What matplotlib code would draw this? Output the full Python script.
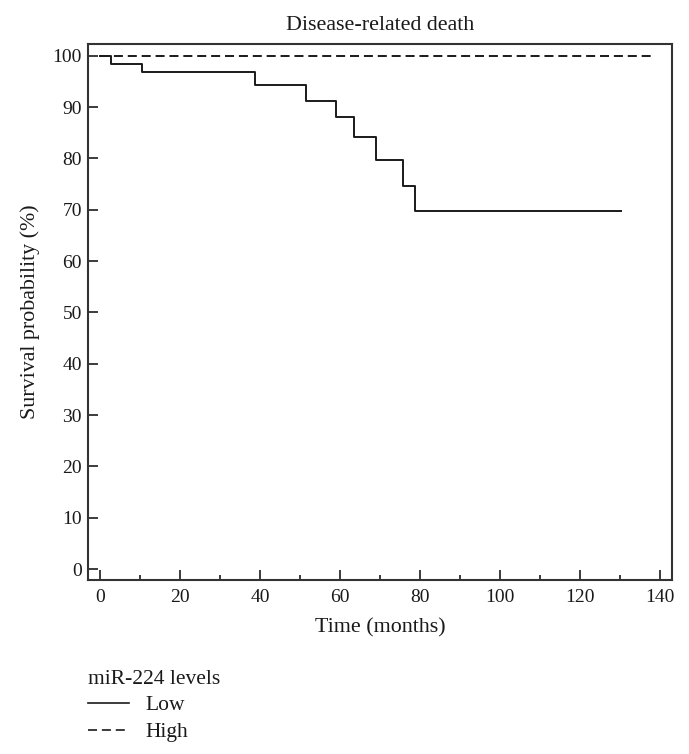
import matplotlib
matplotlib.use("Agg")
import matplotlib.pyplot as plt
from matplotlib.ticker import MultipleLocator

plt.rcParams['font.family'] = ['Liberation Serif', 'DejaVu Serif']
plt.rcParams['lines.scale_dashes'] = False

# Data
low_time = [0, 2.7, 10.4, 38.6, 51.3, 58.8, 63.3, 68.8, 75.7, 78.6, 130.1]
low_surv = [100, 98.4, 96.8, 94.4, 91.2, 88.0, 84.2, 79.6, 74.7, 69.7, 69.7]
high_time = [0, 137.6]
high_surv = [100, 100]
x_ticks = [0, 20, 40, 60, 80, 100, 120, 140]
y_ticks = [0, 10, 20, 30, 40, 50, 60, 70, 80, 90, 100]

W, H = 689, 754
fig = plt.figure(figsize=(W / 100, H / 100), dpi=100)
ax = fig.add_axes([88 / W, 1 - 580 / H, (671.7 - 88) / W, (580 - 44) / H])

col = '#1a1a1a'
ax.step(low_time, low_surv, where='post', color=col, lw=1.4, label='Low')
ax.plot(high_time, high_surv, color=col, lw=1.4, dashes=(6.5, 3.5), label='High')

ax.set_xlim(-3.1, 142.85)
ax.set_ylim(-2.14, 102.3)
ax.set_xticks(x_ticks)
ax.set_yticks(y_ticks)
ax.xaxis.set_minor_locator(MultipleLocator(10))
ax.tick_params(axis='both', which='major', direction='in', length=7, width=1.2,
               labelsize=14, colors=col)
ax.tick_params(axis='x', which='major', pad=6.5)
ax.tick_params(axis='y', which='major', pad=4.5)
ax.tick_params(axis='x', which='minor', direction='in', length=3.5, width=1.2, colors=col)
for s in ax.spines.values():
    s.set_linewidth(1.5)
    s.set_color('#333333')

ax.set_title('Disease-related death', fontsize=15.8, color=col, pad=10)
ax.set_xlabel('Time (months)', fontsize=15.8, color=col, labelpad=9)
ax.set_ylabel('Survival probability (%)', fontsize=15.8, color=col, labelpad=9)

leg = fig.legend(loc='upper left', bbox_to_anchor=(88 / W, 1 - 669.5 / H), frameon=False,
                 title='miR-224 levels', alignment='left', fontsize=15.5, title_fontsize=15.5,
                 handlelength=1.9, handletextpad=0.75, borderpad=0, borderaxespad=0,
                 labelspacing=0.32)
for line in leg.get_lines():
    line.set_linewidth(1.2)
for t in leg.get_texts():
    t.set_color(col)
leg.get_title().set_color(col)

fig.savefig('out.png', dpi=100)
